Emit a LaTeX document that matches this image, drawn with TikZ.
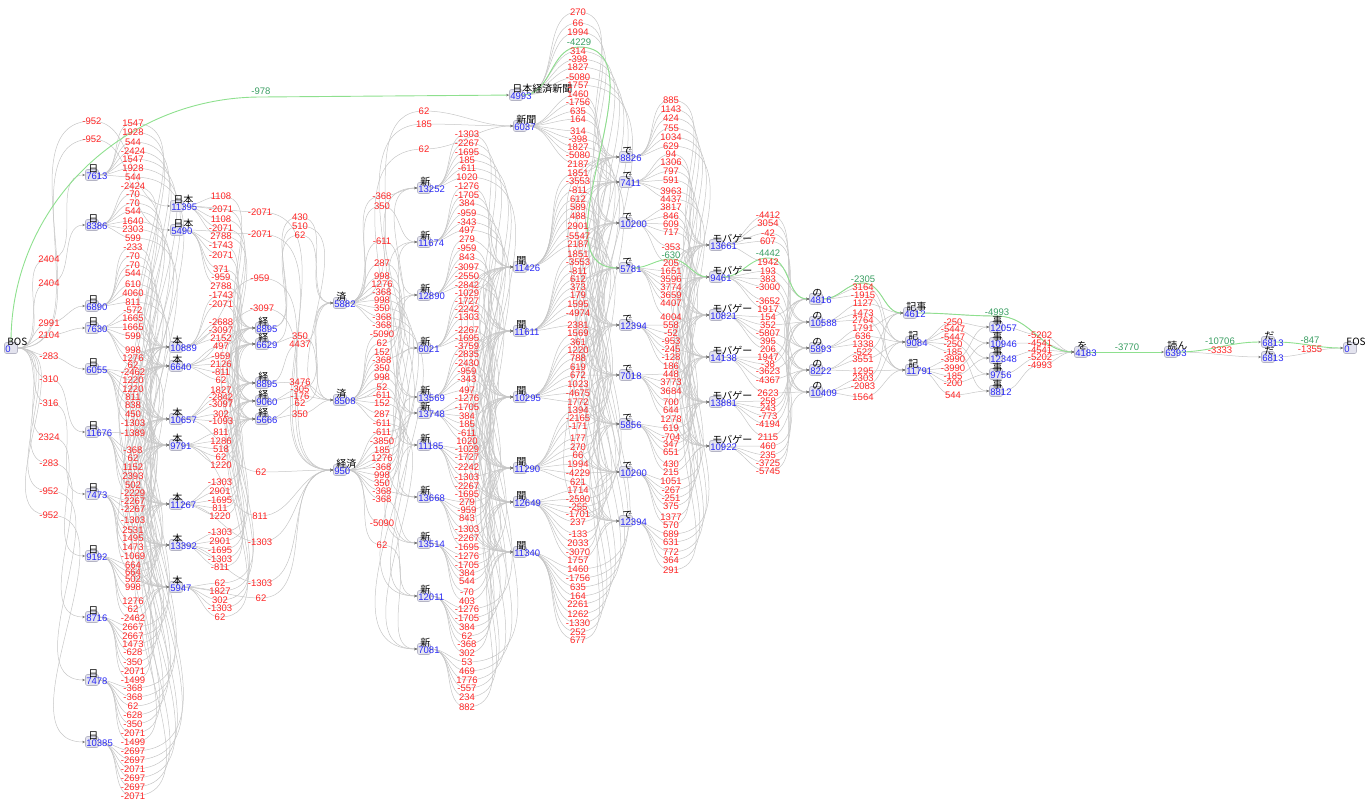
\documentclass[tikz,border=0pt]{standalone}
\usepackage{fontspec}
\setmainfont{Liberation Sans}
\newfontfamily\jpfont{Noto Sans CJK JP}
\usepackage{tikz}
\pgfdeclarelayer{background}
\pgfsetlayers{background,main}
\usetikzlibrary{arrows.meta, positioning}
\definecolor{costred}{HTML}{FF2626}
\definecolor{costblue}{HTML}{2A2AF5}
\definecolor{bestline}{HTML}{8EE08E}
\definecolor{besttext}{HTML}{3A9E62}
\definecolor{latfill}{HTML}{E3E3EE}
\definecolor{latline}{HTML}{B4B4C4}
\definecolor{lnkgray}{HTML}{C6C6C6}

% lattice node: box, surface above, cost below
\newcommand{\lnode}[5]{%
  \node[lat] (#1) at (#2,#3) {};
  \node[surf] (#1-s) at ([xshift=3pt,yshift=2.5pt]#1.west) {#4};
  \node[cnum] (#1-c) at ([xshift=1pt,yshift=-4pt]#1.west) {#5};
}
% n-th name of a comma list
\newcommand{\pickname}[3]{%
  \foreach \nm [count=\q from 0] in {#3}{\ifnum\q=#2\relax\xdef#1{\nm}\fi}%
}
% all links between two columns, each through its label point
\newcommand{\lattice}[4]{%
  \foreach \lx/\ly/\lc [count=\k from 0] in #4 {
    \pgfmathtruncatemacro{\si}{div(\k,#2)}
    \pgfmathtruncatemacro{\ti}{mod(\k,#2)}
    \pickname{\src}{\si}{#1}
    \pickname{\tgt}{\ti}{#3}
    \draw[lnk] (\src) to[out=0,in=180] (\lx,\ly) to[out=0,in=180] (\tgt);
  }%
}
% the cost labels of those links
\newcommand{\costs}[2]{%
  \foreach \lx/\ly/\lc [count=\k from 0] in #2 {\node[cost] (#1-\k) at (\lx,\ly) {\lc};}%
}

% label points and costs, column by column
\def\gapz{92/121/-952, 92/139/-952, 49/259/2404, 49/283/2404, 49/323/2991, 49/335/2104, 49/356/-283,
  49/379/-310, 49/403/-316, 49/437/2324, 49/463/-283, 49/491/-952, 49/515/-952}
\def\gapa{133/123/1547, 133/132/1928, 133/142/544, 133/151/-2424, 133/159/1547, 133/168/1928, 133/177/544,
  133/186/-2424, 133/194/-70, 133/203/-70, 133/211/544, 133/221/1640, 133/229/2303, 133/238/599,
  133/247/-233, 133/256/-70, 133/265/-70, 133/273/544, 133/284/610, 133/293/4060, 133/302/811,
  133/310/-572, 133/318/1665, 133/327/1665, 133/336/599, 133/350/998, 133/358/1276, 133/365/62,
  133/372/-2462, 133/380/1220, 133/389/1220, 133/397/811, 133/405/838, 133/414/450, 133/423/-1303,
  133/433/-1389, 133/450/-368, 133/458/62, 133/467/1152, 133/476/2393, 133/485/502, 133/493/-2229,
  133/501/-2267, 133/509/-2267, 133/520/-1303, 133/530/2531, 133/538/1495, 133/547/1473, 133/556/-1069,
  133/565/664, 133/572/664, 133/579/502, 133/587/998, 133/601/1276, 133/609/62, 133/618/-2462,
  133/627/2667, 133/636/2667, 133/644/1473, 133/652/-628, 133/662/-350, 133/671/-2071, 133/680/-1499,
  133/688/-368, 133/697/-368, 133/706/62, 133/715/-628, 133/724/-350, 133/733/-2071, 133/742/-1499,
  133/751/-2697, 133/760/-2697, 133/769/-2071, 133/778/-2697, 133/787/-2697, 133/796/-2071}
\def\gapb{221/196/1108, 221/209/-2071, 221/219/1108, 221/228/-2071, 221/236/2788, 221/245/-1743, 221/255/-2071,
  221/269/371, 221/277/-959, 221/286/2788, 221/295/-1743, 221/304/-2071, 221/322/-2688, 221/330/-3097,
  221/338/2152, 221/346/497, 221/356/-959, 221/364/2126, 221/372/-811, 221/380/62, 221/390/1827,
  221/397/-2842, 221/404/-3097, 221/414/302, 221/421/-1093, 221/432/811, 221/441/1286, 221/449/518,
  221/457/62, 221/465/1220, 220/482/-1303, 220/491/2901, 220/500/-1695, 220/508/811, 220/516/1220,
  220/532/-1303, 220/541/2901, 220/550/-1695, 220/559/-1303, 220/567/-811, 220/583/62, 220/591/1827,
  220/600/302, 220/608/-1303, 220/617/62}
\def\gapbz{260/212/-2071, 260/234/-2071, 260/278/-959, 262/308/-3097, 261/472/62, 260/516/811,
  260/542/-1303, 260/583/-1303, 261/598/62}
\def\gapc{300/217/430, 300/226/510, 300/235/62, 300/336/350, 300/344/4437, 300/382/3476, 300/389/-305,
  300/396/-176, 300/403/62, 300/414/350}
\def\gapdn{424/111/62, 424/124/185, 424/149/62}
\def\gapd{382/196/-368, 382/206/350, 382/241/-611, 382/263/287, 382/276/998, 382/284/1276, 382/292/-368,
  382/300/998, 382/308/350, 382/317/-368, 382/325/-368, 382/334/-5090, 382/343/62, 382/352/152,
  382/360/-368, 382/368/350, 382/377/998, 382/387/52, 382/395/-611, 382/403/152, 382/414/287,
  382/423/-611, 382/432/-611, 382/441/-3850, 382/450/185, 382/458/1276, 382/467/-368, 382/475/998,
  382/483/350, 382/491/-368, 382/499/-368, 382/523/-5090, 382/545/62}
\def\gape{467/134/-1303, 467/143/-2267, 467/152/-1695, 467/160/185, 467/168/-611, 467/177/1020, 467/186/-1276,
  467/195/-1705, 467/203/384, 467/213/-959, 467/222/-343, 467/230/497, 467/239/279, 467/248/-959,
  467/257/843, 467/267/-3097, 467/276/-2550, 467/285/-2842, 467/293/-1029, 467/301/-1727, 467/309/-2242,
  467/317/-1303, 467/330/-2267, 467/338/-1695, 467/346/-3759, 467/354/-2835, 467/363/-2430, 467/371/-959,
  467/379/-343, 467/390/497, 467/398/-1276, 467/407/-1705, 467/416/384, 467/424/185, 467/433/-611,
  467/441/1020, 467/449/-1029, 467/457/-1727, 467/467/-2242, 467/477/-1303, 467/486/-2267, 467/494/-1695,
  467/502/279, 467/510/-959, 467/518/843, 467/529/-1303, 467/538/-2267, 467/547/-1695, 467/556/-1276,
  467/565/-1705, 467/573/384, 467/581/544, 467/592/-70, 467/601/403, 467/609/-1276, 467/618/-1705,
  467/627/384, 467/636/62, 467/644/-368, 467/653/302, 467/662/53, 467/671/469, 467/680/1776,
  467/688/-557, 467/697/234, 467/707/882}
\def\gapf{578/12/270, 578/23/66, 578/32/1994, 579/47/{}, 578/51/314, 578/59/-398, 578/67/1827, 578/77/-5080,
  578/85/1757, 578/94/1460, 578/102/-1756, 578/111/635, 578/119/164, 578/131/314, 578/139/-398,
  578/147/1827, 578/155/-5080, 578/164/2187, 578/173/1851, 578/181/-3553, 578/190/-811, 578/199/612,
  578/207/589, 578/216/488, 578/226/2901, 578/236/-5547, 578/244/2187, 578/254/1851, 578/262/-3553,
  578/271/-811, 578/279/612, 578/287/373, 578/295/179, 578/304/1595, 578/313/-4974, 578/325/2381,
  578/333/1569, 578/342/361, 578/350/1220, 578/358/788, 578/367/619, 578/375/672, 578/384/1023,
  578/393/-4675, 578/402/1772, 578/410/1394, 578/418/-2165, 578/426/-171, 578/438/177, 578/447/270,
  578/455/66, 578/464/1994, 578/473/-4229, 578/482/621, 578/490/1714, 578/499/-2580, 578/507/-255,
  578/514/-1701, 578/522/237, 578/534/-133, 578/543/2033, 578/552/-3070, 578/560/1757, 578/569/1460,
  578/578/-1756, 578/587/635, 578/596/164, 578/604/2261, 578/614/1262, 578/623/-1330, 578/632/252,
  578/640/677}
\def\gapg{671/100/885, 671/109/1143, 671/118/424, 671/128/755, 671/137/1034, 671/146/629, 671/154/94,
  671/162/1306, 671/171/797, 671/180/591, 671/191/3963, 671/199/4437, 671/207/3817, 671/216/846,
  671/224/609, 671/232/717, 671/247/-353, 671/263/205, 671/271/1651, 671/279/3596, 671/287/3774,
  671/295/3659, 671/303/4407, 671/317/4004, 671/325/558, 671/333/-52, 671/341/-953, 671/349/-245,
  671/357/-128, 671/366/186, 671/374/448, 671/382/3773, 671/391/3684, 671/402/700, 671/410/644,
  671/419/1278, 671/428/619, 671/437/-704, 671/444/347, 671/452/651, 671/464/430, 671/472/215,
  671/481/1051, 671/490/-267, 671/498/-251, 671/506/375, 671/517/1377, 671/525/570, 671/534/689,
  671/542/631, 671/552/772, 671/560/364, 671/570/291}
\def\gaph{768/215/-4412, 768/223/3054, 768/233/-42, 768/241/607, 768/262/1942, 768/271/193, 768/279/383,
  768/287/-3000, 768/301/-3652, 768/309/1917, 768/317/154, 768/325/352, 768/333/-5807, 768/341/395,
  768/349/206, 768/357/1947, 768/364/-38, 768/371/-3623, 768/380/-4367, 768/393/2623, 768/401/258,
  768/408/243, 768/416/-773, 768/424/-4194, 768/437/2115, 768/446/460, 768/455/235, 768/463/-3725,
  768/471/-5745}
\def\gapi{863/283/{}, 863/287/3164, 863/295/-1915, 863/303/1127, 863/313/1473, 863/320/2764, 863/328/1791,
  863/336/636, 863/344/1338, 863/352/-522, 863/359/3551, 863/371/1295, 863/378/2303, 863/386/-2083,
  863/397/1564}
\def\gapj{953/322/-250, 953/329/-5447, 953/337/-5447, 953/344/-250, 953/352/-185, 953/359/-3990,
  953/368/-3990, 953/376/-185, 953/383/-200, 953/395/544}
\def\gapk{997/316/{}, 1040/335/-5202, 1040/343/-4541, 1040/350/-4541, 1040/357/-5202, 1040/365/-4993}

\begin{document}
\begin{tikzpicture}[
    x=1pt, y=-1pt,
    lat/.style={draw=latline, fill=latfill, rounded corners=2pt, line width=0.6pt,
        minimum width=13pt, minimum height=11pt, inner sep=0pt},
    surf/.style={anchor=base west, inner sep=0pt, font=\jpfont\fontsize{10}{10}\selectfont},
    cnum/.style={anchor=base west, inner sep=0pt, text=costblue, font=\fontsize{9.5}{10}\selectfont},
    cost/.style={inner sep=0pt, text=costred, font=\fontsize{9.5}{10}\selectfont},
    bestcost/.style={cost, text=besttext},
    lnk/.style={draw=lnkgray, line width=0.5pt, -{Stealth[length=3pt, width=2.4pt, color=black!55]}},
    best/.style={draw=bestline, line width=0.9pt, -{Stealth[length=3pt, width=2.4pt, color=black!55]}}
]
\useasboundingbox (0,0) rectangle (1370,809);

% BOS and the first character
\lnode{BOS}{11}{348}{BOS}{0}
\lnode{d1}{92}{175}{日}{7613}
\lnode{d2}{92}{225}{日}{8386}
\lnode{d3}{92}{306}{日}{6890}
\lnode{d4}{92}{328}{日}{7630}
\lnode{d5}{92}{369}{日}{6055}
\lnode{d6}{92}{432}{日}{11676}
\lnode{d7}{92}{494}{日}{7473}
\lnode{d8}{92}{556}{日}{9192}
\lnode{d9}{92}{617}{日}{8716}
\lnode{d10}{92}{680}{日}{7478}
\lnode{d11}{92}{742}{日}{10385}
\lnode{h1}{177}{206}{日本}{11395}
\lnode{h2}{177}{230}{日本}{5490}
\lnode{N}{516}{95}{日本経済新聞}{4993}

% 本
\lnode{m1}{176}{347}{本}{10889}
\lnode{m2}{176}{366}{本}{6640}
\lnode{m3}{176}{419}{本}{10657}
\lnode{m4}{176}{445}{本}{9791}
\lnode{m5}{176}{504}{本}{11267}
\lnode{m6}{176}{545}{本}{13392}
\lnode{m7}{176}{587}{本}{5947}

% 経, 済
\lnode{k1}{262}{328}{経}{8895}
\lnode{k2}{262}{344}{経}{6629}
\lnode{k3}{262}{383}{経}{8895}
\lnode{k4}{262}{401}{経}{9060}
\lnode{k5}{262}{419}{経}{5666}
\lnode{s1}{340}{303}{済}{5882}
\lnode{s2}{340}{400}{済}{8508}
\lnode{kz}{340}{470}{経済}{950}

% 新, 新聞
\lnode{a1}{424}{188}{新}{13252}
\lnode{a2}{424}{242}{新}{11674}
\lnode{a3}{424}{295}{新}{12890}
\lnode{a4}{424}{348}{新}{6021}
\lnode{a5}{424}{397}{新}{13569}
\lnode{a6}{424}{413}{新}{13748}
\lnode{a7}{424}{445}{新}{11185}
\lnode{a8}{424}{497}{新}{13668}
\lnode{a9}{424}{543}{新}{13514}
\lnode{a10}{424}{596}{新}{12011}
\lnode{a11}{424}{649}{新}{7081}
\lnode{sb}{520}{126}{新聞}{6037}

% 聞
\lnode{b1}{520}{267}{聞}{11426}
\lnode{b2}{520}{331}{聞}{11611}
\lnode{b3}{520}{397}{聞}{10295}
\lnode{b4}{520}{468}{聞}{11290}
\lnode{b5}{520}{502}{聞}{12649}
\lnode{b6}{520}{552}{聞}{11340}

% で
\lnode{e1}{626}{157}{で}{8826}
\lnode{e2}{626}{182}{で}{7411}
\lnode{e3}{626}{223}{で}{10200}
\lnode{e4}{626}{268}{で}{5781}
\lnode{e5}{626}{325}{で}{12394}
\lnode{e6}{626}{375}{で}{7018}
\lnode{e7}{626}{424}{で}{5856}
\lnode{e8}{626}{472}{で}{10200}
\lnode{e9}{626}{521}{で}{12394}

% モバゲー
\lnode{g1}{716}{245}{モバゲー}{13661}
\lnode{g2}{716}{277}{モバゲー}{9461}
\lnode{g3}{716}{315}{モバゲー}{10821}
\lnode{g4}{716}{357}{モバゲー}{14138}
\lnode{g5}{716}{402}{モバゲー}{13881}
\lnode{g6}{716}{446}{モバゲー}{10922}

% の
\lnode{n1}{816}{299}{の}{4816}
\lnode{n2}{816}{322}{の}{10588}
\lnode{n3}{816}{348}{の}{5893}
\lnode{n4}{816}{370}{の}{8222}
\lnode{n5}{816}{392}{の}{10409}

% 記事, 記, 事
\lnode{kj}{910}{313}{記事}{4612}
\lnode{r1}{912}{342}{記}{9084}
\lnode{r2}{912}{370}{記}{11791}
\lnode{j1}{996}{327}{事}{12057}
\lnode{j2}{996}{343}{事}{10946}
\lnode{j3}{996}{358}{事}{12348}
\lnode{j4}{996}{374}{事}{9756}
\lnode{j5}{996}{391}{事}{8812}

% を 読ん だ EOS
\lnode{wo}{1081}{352}{を}{4183}
\lnode{yon}{1171}{352}{読ん}{6393}
\lnode{da1}{1268}{342}{だ}{6813}
\lnode{da2}{1268}{357}{だ}{6813}
\lnode{EOS}{1350}{348}{EOS}{0}

% best path label points
\coordinate (p0) at (261,97);
\coordinate (p1) at (579,47);
\coordinate (p2) at (671,259);
\coordinate (p3) at (768,258);
\coordinate (p4) at (863,283);
\coordinate (p5) at (997,316);

% links
\begin{pgfonlayer}{background}
\lattice{BOS}{13}{h1,h2,d1,d2,d3,d4,d5,d6,d7,d8,d9,d10,d11}{\gapz}
\lattice{d1,d2,d3,d4,d5,d6,d7,d8,d9,d10,d11}{7}{m1,m2,m3,m4,m5,m6,m7}{\gapa}
\lattice{h1,h2,m1,m2,m3,m4,m5,m6,m7}{5}{k1,k2,k3,k4,k5}{\gapb}
\lattice{h1,h2,m1,m2,m3,m4,m5,m6,m7}{1}{kz}{\gapbz}
\lattice{k1,k2,k3,k4,k5}{2}{s1,s2}{\gapc}
\lattice{s1,s2,kz}{1}{sb}{\gapdn}
\lattice{s1,s2,kz}{11}{a1,a2,a3,a4,a5,a6,a7,a8,a9,a10,a11}{\gapd}
\lattice{a1,a2,a3,a4,a5,a6,a7,a8,a9,a10,a11}{6}{b1,b2,b3,b4,b5,b6}{\gape}
\lattice{N,sb,b1,b2,b3,b4,b5,b6}{9}{e1,e2,e3,e4,e5,e6,e7,e8,e9}{\gapf}
\lattice{e1,e2,e3,e4,e5,e6,e7,e8,e9}{6}{g1,g2,g3,g4,g5,g6}{\gapg}
\lattice{g1,g2,g3,g4,g5,g6}{5}{n1,n2,n3,n4,n5}{\gaph}
\lattice{n1,n2,n3,n4,n5}{3}{kj,r1,r2}{\gapi}
\lattice{r1,r2}{5}{j1,j2,j3,j4,j5}{\gapj}
\lattice{kj,j1,j2,j3,j4,j5}{1}{wo}{\gapk}
\draw[lnk] (yon) to[out=0,in=180] (da2);
\draw[lnk] (da2) to[out=0,in=180] (EOS);
% best path
\draw[best] (BOS) to[out=90,in=180] (p0) -- (N);
\draw[best] (N) to[out=0,in=180] (p1) to[out=0,in=180] (e4);
\draw[best] (e4) to[out=0,in=180] (p2) to[out=0,in=180] (g2);
\draw[best] (g2) to[out=0,in=180] (p3) to[out=0,in=180] (n1);
\draw[best] (n1) to[out=0,in=180] (p4) to[out=0,in=180] (kj);
\draw[best] (kj) to[out=0,in=180] (p5) to[out=0,in=180] (wo);
\draw[best] (wo) -- (yon);
\draw[best] (yon) to[out=0,in=180] (da1);
\draw[best] (da1) to[out=0,in=180] (EOS);
\end{pgfonlayer}

% costs on the links
\costs{z}{\gapz}
\costs{a}{\gapa}
\costs{b}{\gapb}
\costs{bz}{\gapbz}
\costs{c}{\gapc}
\costs{dn}{\gapdn}
\costs{d}{\gapd}
\costs{e}{\gape}
\costs{f}{\gapf}
\costs{g}{\gapg}
\costs{h}{\gaph}
\costs{i}{\gapi}
\costs{j}{\gapj}
\costs{k}{\gapk}
\node[bestcost] (w0) at (261,91) {-978};
\node[bestcost] (w1) at (579,42) {-4229};
\node[bestcost] (w2) at (671,255) {-630};
\node[bestcost] (w3) at (768,253) {-4442};
\node[bestcost] (w4) at (863,279) {-2305};
\node[bestcost] (w5) at (997,312) {-4993};
\node[bestcost] (w6) at (1127,347) {-3770};
\node[bestcost] (w7) at (1220,341) {-10706};
\node[cost] (w8) at (1220,350) {-3333};
\node[bestcost] (w9) at (1310,340) {-847};
\node[cost] (w10) at (1310,349) {-1355};

\end{tikzpicture}
\end{document}
